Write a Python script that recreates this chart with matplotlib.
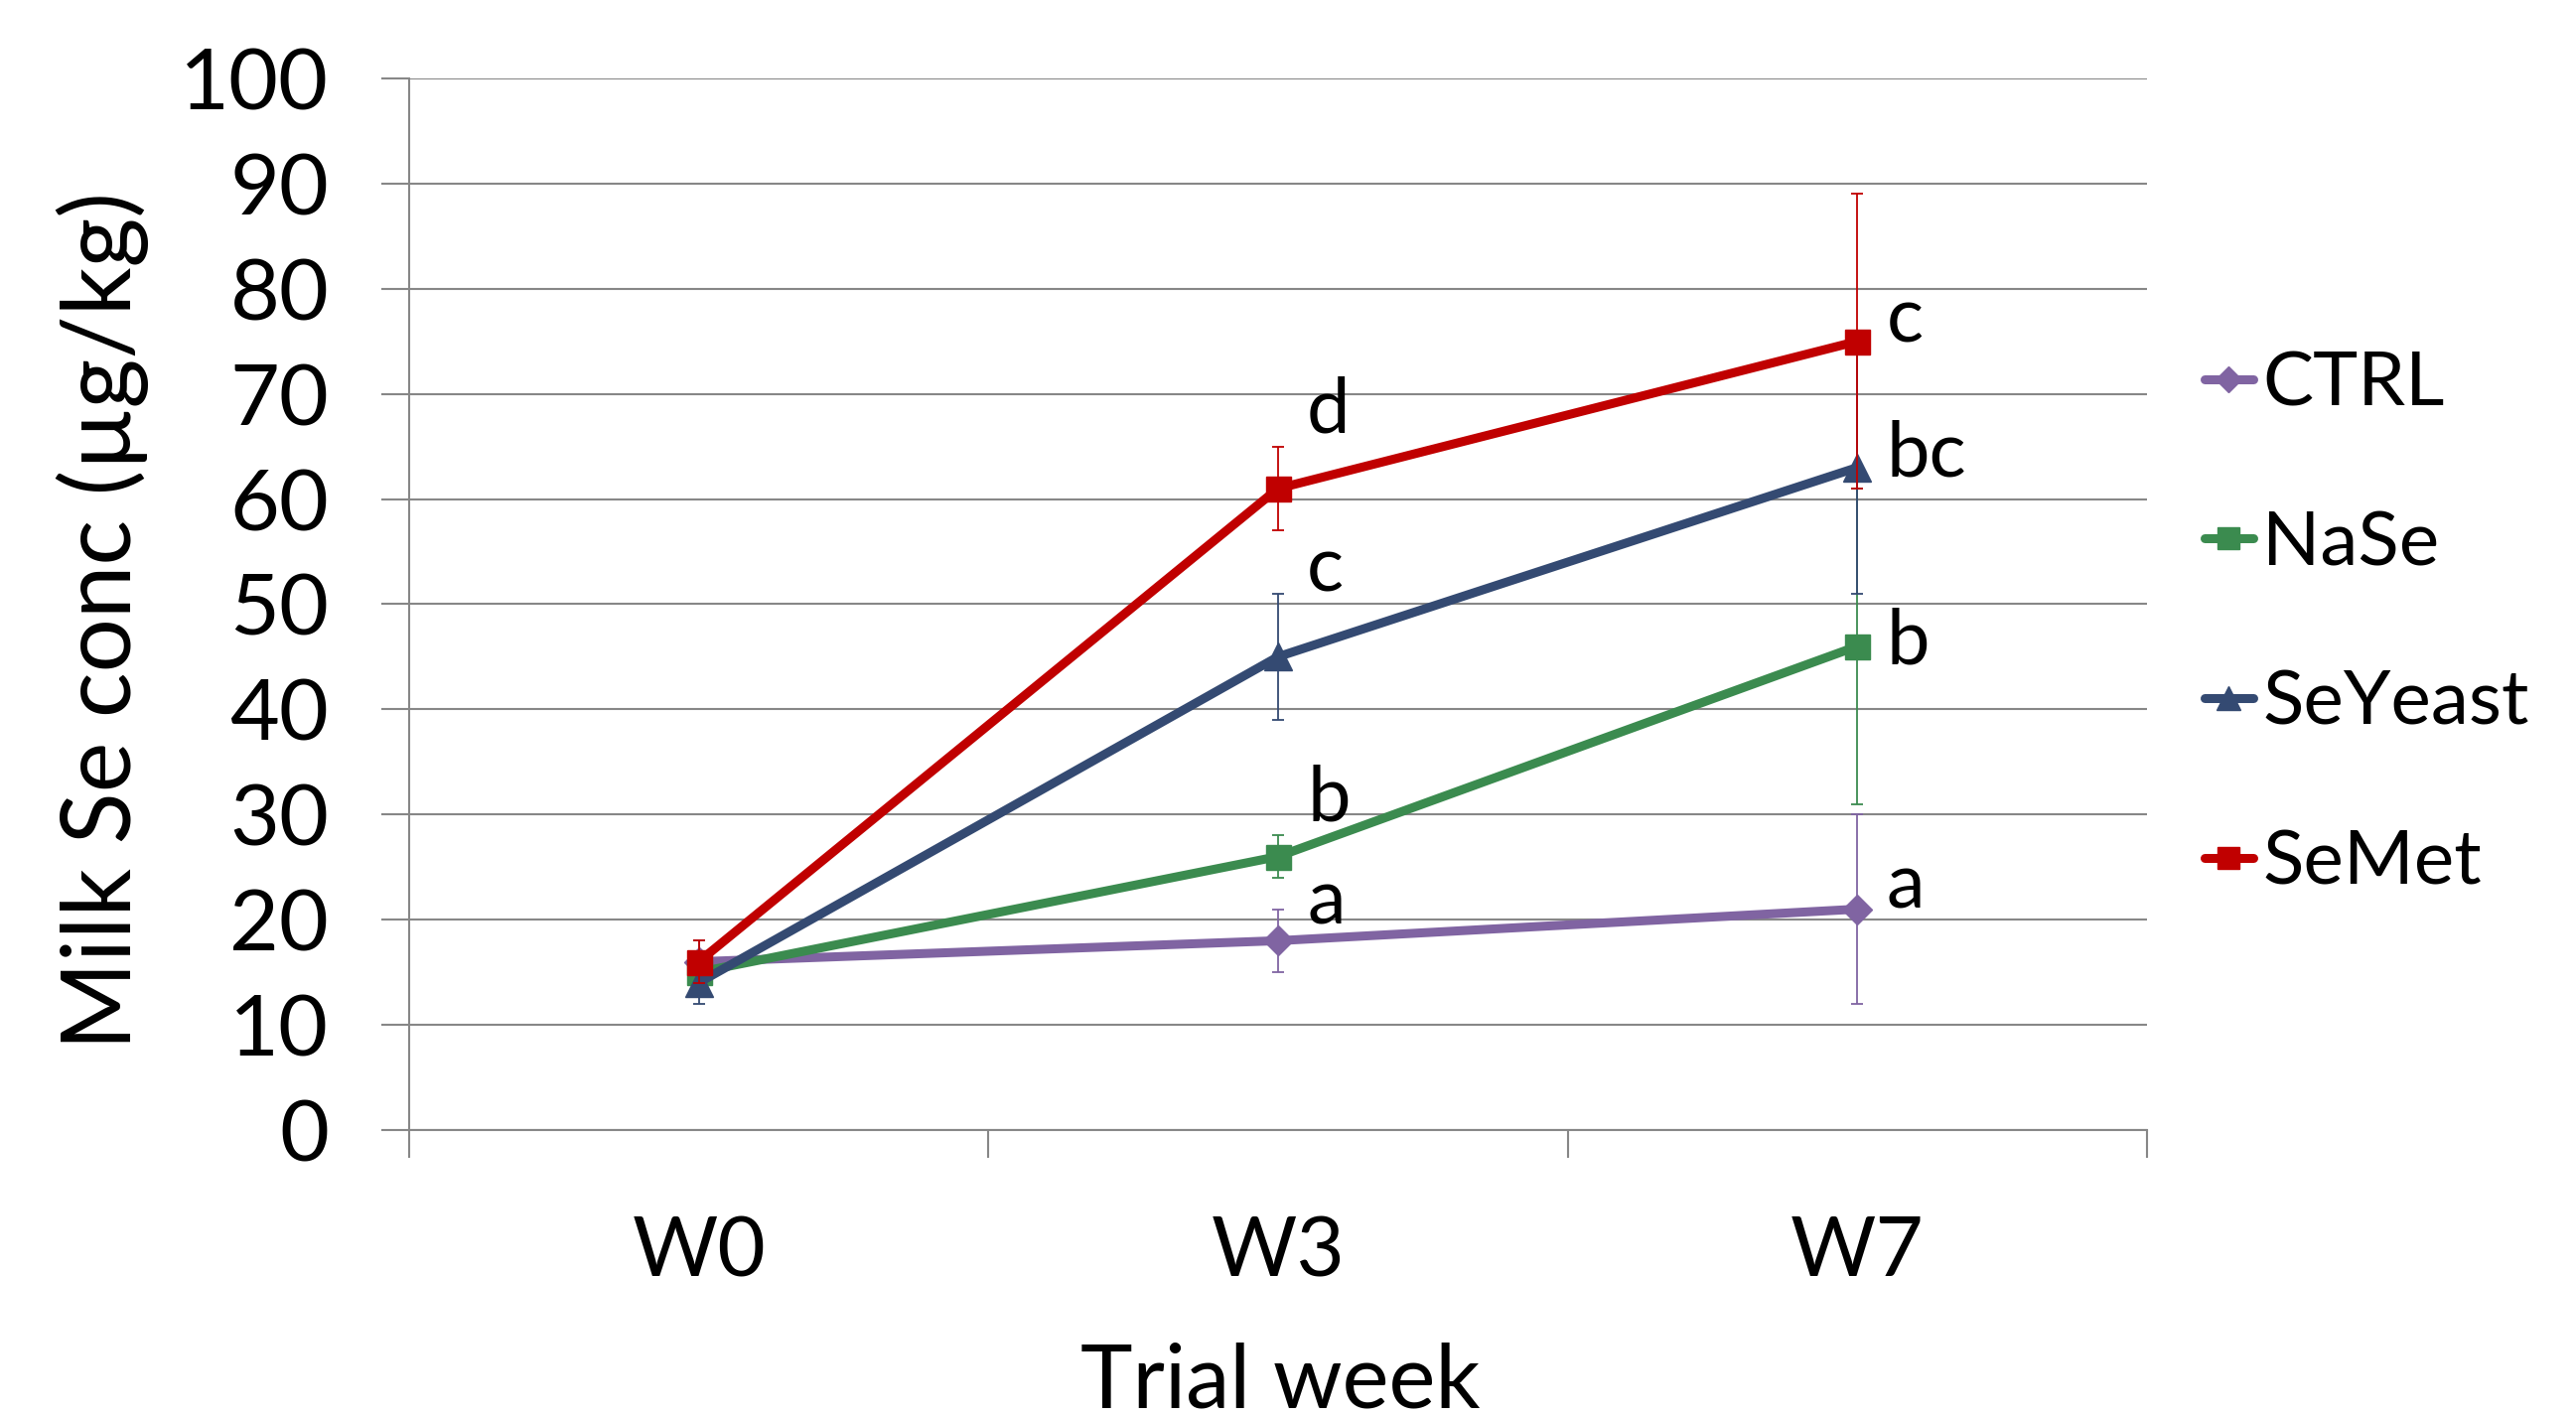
import matplotlib.pyplot as plt
import numpy as np

plt.rcParams['font.family'] = ['Lato', 'DejaVu Sans']

# data
weeks = ["W0", "W3", "W7"]
groups = ["CTRL", "NaSe", "SeYeast", "SeMet"]
ctrl = [16, 18, 21]
nase = [15, 26, 46]
seyeast = [14, 45, 63]
semet = [16, 61, 75]
ctrl_err = [2, 3, 9]
nase_err = [1, 2, 15]
seyeast_err = [2, 6, 12]
semet_err = [2, 4, 14]
letters_w3 = ["a", "b", "c", "d"]
letters_w7 = ["a", "b", "bc", "c"]

colors = ["#8064A2", "#3B8B4F", "#344A72", "#C00000"]
markers = ["D", "s", "^", "s"]
msizes = [15, 18, 20, 18]
grid_col = "#878787"

# vertical offsets of significance letters (layout only)
off_w3 = [3.6, 5.4, 8.3, 7.4]
off_w7 = [2.1, 0.4, 1.2, 2.0]

fig = plt.figure(figsize=(25.94, 14.26), dpi=100)
ax = fig.add_axes([0.1588, 0.2020, 0.6746, 0.7426])

x = np.arange(len(weeks))
series = [ctrl, nase, seyeast, semet]
errs = [ctrl_err, nase_err, seyeast_err, semet_err]

for i, (vals, err) in enumerate(zip(series, errs)):
    z = 3 + i
    ax.errorbar(x, vals, yerr=err, fmt='none', ecolor=colors[i],
                elinewidth=1.3, capsize=4.5, capthick=1.3, zorder=z)
    ax.plot(x, vals, color=colors[i], lw=6.5, marker=markers[i],
            ms=msizes[i], mec=colors[i], mfc=colors[i],
            label=groups[i], zorder=z + 0.5, solid_capstyle='round')
    ax.text(1 + 0.05, vals[1] + off_w3[i], letters_w3[i], fontsize=56,
            ha='left', va='center', zorder=10)
    ax.text(2 + 0.05, vals[2] + off_w7[i], letters_w7[i], fontsize=56,
            ha='left', va='center', zorder=10)

ax.set_xlim(-0.5, 2.5)
ax.set_ylim(0, 100)
ax.set_yticks(np.arange(0, 101, 10))
ax.yaxis.grid(True, color=grid_col, lw=1.5)
ax.set_axisbelow(True)

# category boundaries as major ticks, labels on minor
ax.set_xticks([-0.5, 0.5, 1.5, 2.5])
ax.set_xticklabels([])
ax.set_xticks(x, minor=True)
ax.set_xticklabels(weeks, minor=True)
ax.tick_params(axis='x', which='major', length=20, width=1.5, color=grid_col, direction='out')
ax.tick_params(axis='x', which='minor', length=0, pad=62, labelsize=60)
ax.tick_params(axis='y', length=20, width=1.5, color=grid_col, direction='out',
               pad=38, labelsize=62)

for s in ['top', 'right']:
    ax.spines[s].set_visible(False)
for s in ['left', 'bottom']:
    ax.spines[s].set_color(grid_col)
    ax.spines[s].set_linewidth(1.5)

fig.text(0.0397, 0.562, "Milk Se conc (µg/kg)", rotation=90, fontsize=69,
         ha='center', va='center')
fig.text(0.497, 0.052, "Trial week", fontsize=64, ha='center', va='top')

leg = ax.legend(loc='center left', bbox_to_anchor=(1.033, 0.4816), frameon=False,
                fontsize=55, handlelength=0.65, handletextpad=0.12,
                labelspacing=1.2, borderpad=0, borderaxespad=0, markerscale=0.85)

fig.savefig("out.png", dpi=100)
